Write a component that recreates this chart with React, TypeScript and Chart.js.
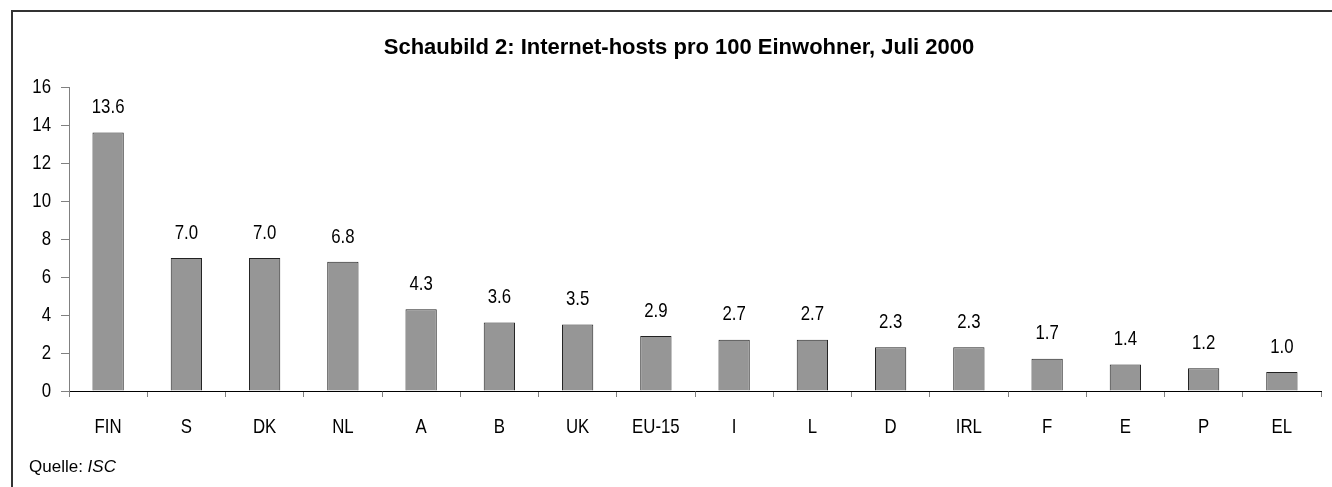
import React, { useEffect, useRef } from "react";
import { Chart, registerables } from "chart.js";

Chart.register(...registerables);

const categories = ["FIN", "S", "DK", "NL", "A", "B", "UK", "EU-15", "I", "L", "D", "IRL", "F", "E", "P", "EL"];
const hostsPer100 = [13.6, 7.0, 7.0, 6.8, 4.3, 3.6, 3.5, 2.9, 2.7, 2.7, 2.3, 2.3, 1.7, 1.4, 1.2, 1.0];
const valueLabels = ["13.6", "7.0", "7.0", "6.8", "4.3", "3.6", "3.5", "2.9", "2.7", "2.7", "2.3", "2.3", "1.7", "1.4", "1.2", "1.0"];
const yTickValues = [0, 2, 4, 6, 8, 10, 12, 14, 16];
const titleText = "Schaubild 2: Internet-hosts pro 100 Einwohner, Juli 2000";
const sourceLabel = "Quelle: ";
const sourceName = "ISC";

const FONT = '"Liberation Sans", Arial, sans-serif';
const NARROW = 0.8;

function narrowText(ctx: CanvasRenderingContext2D, text: string, x: number, y: number, align: CanvasTextAlign, font: string) {
  ctx.save();
  ctx.font = font;
  ctx.textAlign = align;
  ctx.textBaseline = "middle";
  ctx.fillStyle = "#000";
  ctx.translate(x, y);
  ctx.scale(NARROW, 1);
  ctx.fillText(text, 0, 0);
  ctx.restore();
}

const decorPlugin = {
  id: "decor",
  afterDraw(chart: any) {
    const ctx = chart.ctx as CanvasRenderingContext2D;
    const xs = chart.scales.x;
    const ys = chart.scales.y;
    const labelFont = `21px ${FONT}`;
    // y tick labels
    yTickValues.forEach((v) => {
      narrowText(ctx, String(v), 51, ys.getPixelForValue(v), "right", labelFont);
    });
    // x tick labels
    categories.forEach((c, i) => {
      narrowText(ctx, c, xs.getPixelForValue(i), 427, "center", labelFont);
    });
    // value labels
    const meta = chart.getDatasetMeta(0);
    meta.data.forEach((bar: any, i: number) => {
      narrowText(ctx, valueLabels[i], bar.x, bar.y - 25, "center", labelFont);
    });
    ctx.save();
    ctx.fillStyle = "#000";
    ctx.textBaseline = "middle";
    // title
    ctx.textAlign = "center";
    ctx.font = `bold 22px ${FONT}`;
    ctx.fillText(titleText, 679, 48);
    // source
    ctx.textAlign = "left";
    ctx.font = `17px ${FONT}`;
    ctx.fillText(sourceLabel, 29, 467);
    const w = ctx.measureText(sourceLabel).width;
    ctx.font = `italic 17px ${FONT}`;
    ctx.fillText(sourceName, 29 + w, 467);
    ctx.restore();
  },
};

export default function App() {
  const ref = useRef<HTMLCanvasElement>(null);
  useEffect(() => {
    if (!ref.current) return;
    const chart = new Chart(ref.current, {
      type: "bar",
      data: {
        labels: categories,
        datasets: [
          {
            data: hostsPer100,
            backgroundColor: "#969696",
            borderColor: "#222",
            borderWidth: 1,
            barPercentage: 0.4,
            categoryPercentage: 1,
          },
        ],
      },
      options: {
        responsive: false,
        animation: false,
        layout: { padding: { left: 0, top: 87, right: 11, bottom: 36 } },
        plugins: { legend: { display: false }, tooltip: { enabled: false }, title: { display: false } },
        scales: {
          x: {
            grid: { drawOnChartArea: false, drawTicks: true, tickLength: 6, color: "#808080", offset: true },
            border: { display: true, color: "#000", width: 1 },
            ticks: { color: "rgba(0,0,0,0)", font: { family: FONT, size: 17 }, padding: 22, maxRotation: 0, autoSkip: false },
            afterFit: (s: any) => { s.height = 60; },
          },
          y: {
            min: 0,
            max: 16,
            grid: { drawOnChartArea: false, drawTicks: true, tickLength: 8, color: "#808080" },
            border: { display: true, color: "#808080", width: 1 },
            ticks: { stepSize: 2, color: "rgba(0,0,0,0)", font: { family: FONT, size: 20 }, padding: 10 },
            afterFit: (s: any) => { s.width = 69; },
          },
        },
      },
      plugins: [decorPlugin],
    });
    return () => chart.destroy();
  }, []);
  return (
    <div style={{ position: "absolute", left: 0, top: 0, width: 1332, height: 487, background: "#fff", overflow: "hidden" }}>
      <div style={{ position: "absolute", left: 11, top: 10, width: 1400, height: 600, borderTop: "2px solid #333", borderLeft: "2px solid #333" }} />
      <canvas ref={ref} width={1332} height={487} style={{ position: "absolute", left: 0, top: 0 }} />
    </div>
  );
}
